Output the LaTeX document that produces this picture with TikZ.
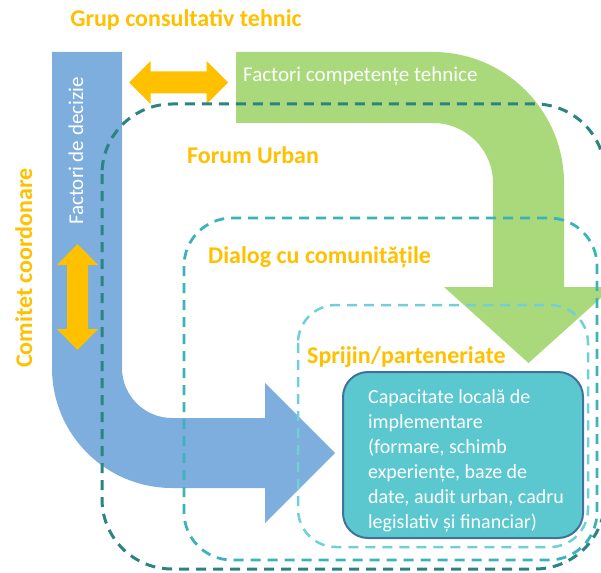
\documentclass[tikz,border=0pt]{standalone}
\usepackage{fontspec}
\setmainfont{Carlito}
\definecolor{arrowblue}{HTML}{7DAEDD}
\definecolor{arrowgreen}{HTML}{A9D97A}
\definecolor{gold}{HTML}{FFC000}
\definecolor{tealdark}{HTML}{2A8482}
\definecolor{tealmid}{HTML}{3BB3BB}
\definecolor{teallight}{HTML}{70D0D8}
\definecolor{boxfill}{HTML}{5BC8CF}
\definecolor{boxline}{HTML}{41719C}
\tikzset{
    level/.style={dash pattern=on 10pt off 7pt, line width=3pt},
    grouplabel/.style={font=\bfseries\fontsize{24}{28}\selectfont, text=gold, inner sep=0pt},
    flowtext/.style={font=\fontsize{21}{25}\selectfont, text=white, inner sep=0pt},
    capbox/.style={draw=boxline, line width=2pt, fill=boxfill, rounded corners=25pt,
        minimum width=240pt, minimum height=166pt},
    captext/.style={align=left, inner sep=0pt, font=\fontsize{20}{25}\selectfont, text=white}
}
\begin{document}
\begin{tikzpicture}[x=1pt,y=-1pt]
    \useasboundingbox (0,0) rectangle (601,572);
    % big flows
    \fill [arrowblue] (52,52) -- (122,52) -- (122,368) arc[start angle=180,end angle=90,radius=50]
        -- (265,418) -- (265,383) -- (335,453) -- (265,523) -- (265,488) -- (172,488)
        arc[start angle=90,end angle=180,radius=120] -- cycle;
    \fill [arrowgreen] (236,52) -- (433,52) arc[start angle=270,end angle=360,radius=131]
        -- (564,287) -- (613,287) -- (528.5,363) -- (444,287) -- (493,287) -- (493,183)
        arc[start angle=0,end angle=-90,radius=60] -- (236,123) -- cycle;
    % two way links
    \fill [gold] (129,82.5) -- (150.5,61) -- (150.5,71.5) -- (206.5,71.5) -- (206.5,61)
        -- (228,82.5) -- (206.5,104) -- (206.5,93.5) -- (150.5,93.5) -- (150.5,104) -- cycle;
    \fill [gold] (77.5,244) -- (98,265) -- (88,265) -- (88,329) -- (98,329)
        -- (77.5,350) -- (57,329) -- (67,329) -- (67,265) -- (57,265) -- cycle;
    % nested levels
    \draw [level, tealdark, rounded corners=70pt] (102,104) rectangle (605,569);
    \draw [level, tealmid, line width=2.8pt, rounded corners=48pt] (184,218) rectangle (597,560);
    \draw [level, teallight, line width=2.5pt, rounded corners=38pt] (298,305) rectangle (588,547);
    \node [capbox] (cap) at (463,455) {};
    \node [captext] (captext) at ([xshift=3pt,yshift=-6pt]cap.center) {Capacitate locală de\\implementare\\(formare, schimb\\experiențe, baze de\\date, audit urban, cadru\\legislativ și financiar)};
    % labels
    \node [grouplabel, anchor=base] (grup) at (186,27) {Grup consultativ tehnic};
    \node [grouplabel, anchor=base west] (forum) at (187,163) {Forum Urban};
    \node [grouplabel, anchor=base west] (dialog) at (208,263) {Dialog cu comunitățile};
    \node [grouplabel, anchor=base west] (sprijin) at (307,363) {Sprijin/parteneriate};
    \node [grouplabel, anchor=base, rotate=90] (comitet) at (32,268) {Comitet coordonare};
    \node [flowtext, anchor=base, rotate=90] (decizie) at (83,151) {Factori de decizie};
    \node [flowtext, anchor=base west] (competente) at (243,82) {Factori competențe tehnice};
\end{tikzpicture}
\end{document}
